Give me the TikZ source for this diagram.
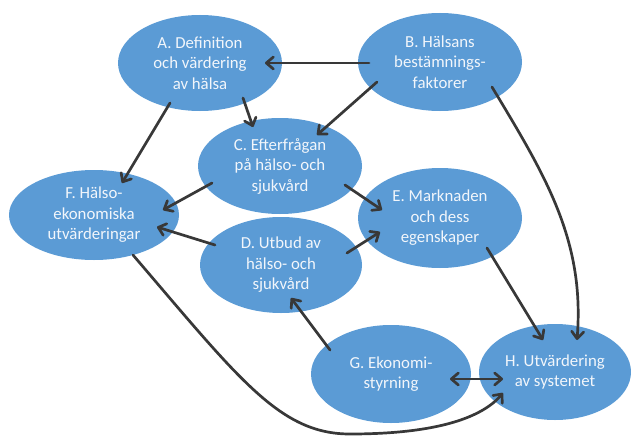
\documentclass[tikz,border=0pt]{standalone}
\usepackage{fontspec}
\setmainfont{Carlito}
\usetikzlibrary{shapes.geometric,arrows.meta,calc}
\definecolor{ellfill}{HTML}{5B9BD5}
\definecolor{elltext}{HTML}{F2F6FB}
\definecolor{arr}{HTML}{383838}
\begin{document}
\begin{tikzpicture}[x=1pt,y=-1pt,
  ell/.style={ellipse, fill=ellfill, text=elltext, inner sep=0pt, align=center,
    font=\fontsize{16.8}{20.5}\selectfont},
  tipb/.tip={Straight Barb[length=7pt,width=12pt,line cap=round,line join=round]},
  conn/.style={draw=arr, line width=2.7pt, line cap=round, -tipb},
  dconn/.style={draw=arr, line width=2.7pt, tipb-tipb}]
\useasboundingbox (0,0) rectangle (631,436);
\node[ell, minimum width=164pt, minimum height=96pt] (A) at (200,63) {A. Definition\\och värdering\\av hälsa};
\node[ell, minimum width=164pt, minimum height=98pt] (B) at (440,62) {B. Hälsans\\bestämnings-\\faktorer};
\node[ell, minimum width=164pt, minimum height=96pt] (C) at (280,166) {C. Efterfrågan\\på hälso- och\\sjukvård};
\node[ell, minimum width=170pt, minimum height=90pt] (F) at (94,215) {F. Hälso-\\ekonomiska\\utvärderingar};
\node[ell, minimum width=162pt, minimum height=96pt] (D) at (281,265) {D. Utbud av\\hälso- och\\sjukvård};
\node[ell, minimum width=164pt, minimum height=100pt] (E) at (440,218) {E. Marknaden\\och dess\\egenskaper};
\node[ell, minimum width=160pt, minimum height=98pt] (G) at (391,374) {G. Ekonomi-\\styrning};
\node[ell, minimum width=152pt, minimum height=96pt] (H) at (555,372) {H. Utvärdering\\av systemet};

\draw[conn] ($(B)+(-71,1)$) -- ($(A)+(65,0)$);
\draw[conn] ($(B)+(-63,20)$) -- ($(C)+(37,-31)$);
\draw[conn] ($(A)+(43,35)$) -- ($(C)+(-27,-39)$);
\draw[conn] ($(A)+(-30,40)$) -- ($(F)+(28,-32)$);
\draw[conn] ($(C)+(-68,17)$) -- ($(F)+(69,-5)$);
\draw[conn] ($(C)+(65,19)$) -- ($(E)+(-58,-8)$);
\draw[conn] ($(D)+(-66,-20)$) -- ($(F)+(63,12)$);
\draw[conn] ($(D)+(66,-12)$) -- ($(E)+(-60,14)$);
\draw[conn] ($(E)+(47,30)$) -- ($(H)+(-12,-32)$);
\draw[conn] ($(B)+(52,25)$) .. controls +(53,88) and +(8,-100) .. ($(H)+(22,-32)$);
\draw[conn] ($(G)+(-61,-24)$) -- ($(D)+(10,33)$);
\draw[dconn] ($(G)+(59,5)$) -- ($(H)+(-52,7)$);
\coordinate (fh) at (350,434);
\draw[conn] ($(F)+(39,40)$) .. controls (240,380) and (280,434) .. (fh)
  .. controls (430,434) and (480,420) .. ($(H)+(-52,21)$);
\end{tikzpicture}
\end{document}
